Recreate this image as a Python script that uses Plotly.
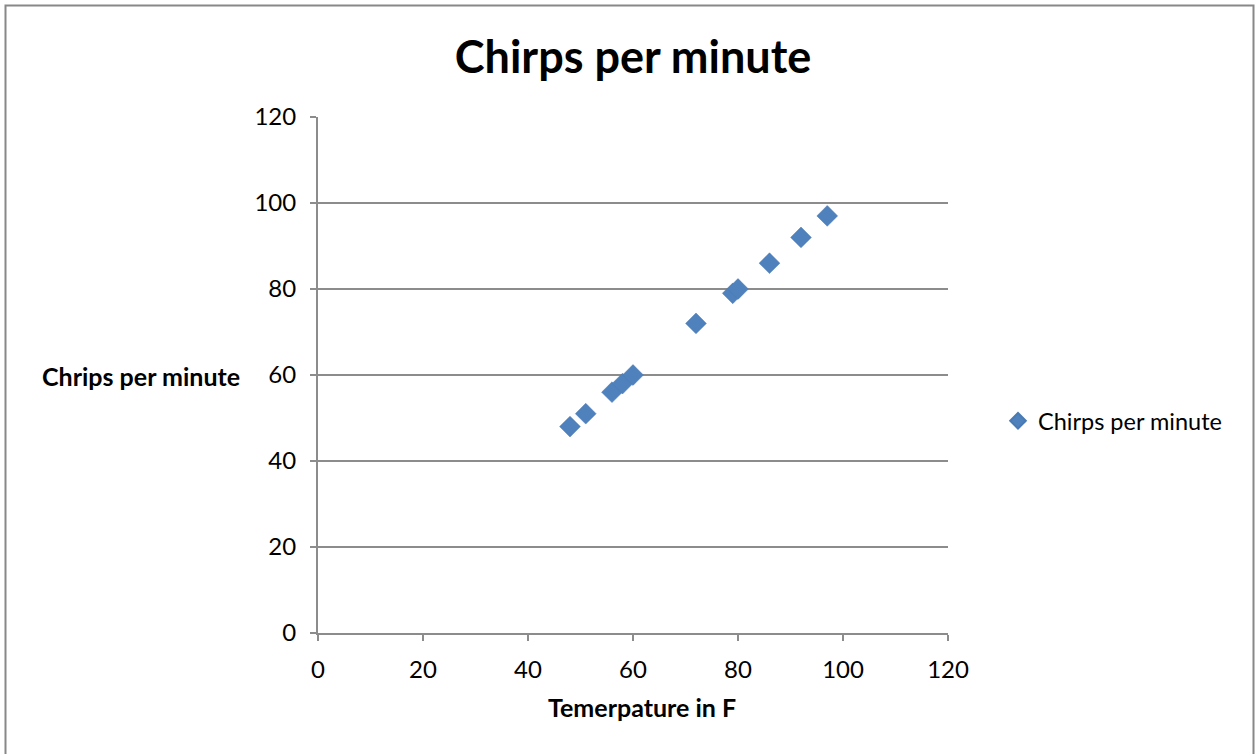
import plotly.graph_objects as go

# Temperature (F) vs. cricket chirps per minute
temperature_f = [48, 51, 56, 58, 60, 72, 79, 80, 86, 92, 97]
chirps_per_minute = [48, 51, 56, 58, 60, 72, 79, 80, 86, 92, 97]
tick_values = [0, 20, 40, 60, 80, 100, 120]

W, H = 1256, 754
L, R, T, B = 318, 308, 117, 121
PW, PH = W - L - R, H - T - B

def px(x):
    return (x - L) / PW

def py(y):
    return (H - B - y) / PH

FONT = "Lato, Calibri, Carlito, sans-serif"
GRID = "#8c8c8c"

fig = go.Figure()
fig.add_trace(go.Scatter(
    x=temperature_f, y=chirps_per_minute,
    mode="markers", name="Chirps per minute",
    marker=dict(symbol="diamond", size=16, color="#4f81bd",
                line=dict(width=0.5, color="#4a7ab3")),
))

fig.update_layout(
    width=W, height=H,
    margin=dict(l=L, r=R, t=T, b=B),
    paper_bgcolor="white", plot_bgcolor="white",
    font=dict(family=FONT, size=24, color="black"),
    title=dict(text="<b>Chirps per minute</b>", x=0.5, xanchor="center",
               xref="paper", y=1 - 57 / H, yanchor="middle",
               font=dict(size=45, family=FONT)),
    xaxis=dict(range=[0, 120], tickvals=tick_values, showgrid=False,
               zeroline=False, showline=True, linecolor=GRID, linewidth=2,
               ticks="outside", ticklen=6, tickcolor=GRID, tickwidth=2,
               tickfont=dict(size=24), ticklabelstandoff=8,
               fixedrange=True),
    yaxis=dict(range=[0, 120], tickvals=tick_values, showgrid=True,
               gridcolor=GRID, gridwidth=2, zeroline=False, showline=True,
               linecolor=GRID, linewidth=2, ticks="outside", ticklen=6,
               tickcolor=GRID, tickwidth=2, tickfont=dict(size=24),
               ticklabelstandoff=9, fixedrange=True),
    legend=dict(x=px(998), y=py(421), xanchor="left", yanchor="middle",
                font=dict(size=23.5), bgcolor="rgba(0,0,0,0)",
                itemsizing="constant", itemwidth=30),
    showlegend=True,
)

fig.add_annotation(text="<b>Chrips per minute</b>", xref="paper", yref="paper",
                   x=px(141), y=py(376), xanchor="center", yanchor="middle",
                   showarrow=False, font=dict(size=25, family=FONT))
fig.add_annotation(text="<b>Temerpature in F</b>", xref="paper", yref="paper",
                   x=px(642), y=py(707), xanchor="center", yanchor="middle",
                   showarrow=False, font=dict(size=25, family=FONT))

# Chart-area frame
fig.add_shape(type="rect", xref="paper", yref="paper",
              x0=px(5.5), x1=px(1253.5), y0=py(760), y1=py(5.5),
              line=dict(color="#888888", width=2), fillcolor="rgba(0,0,0,0)",
              layer="below")

fig.write_html("out.html")
